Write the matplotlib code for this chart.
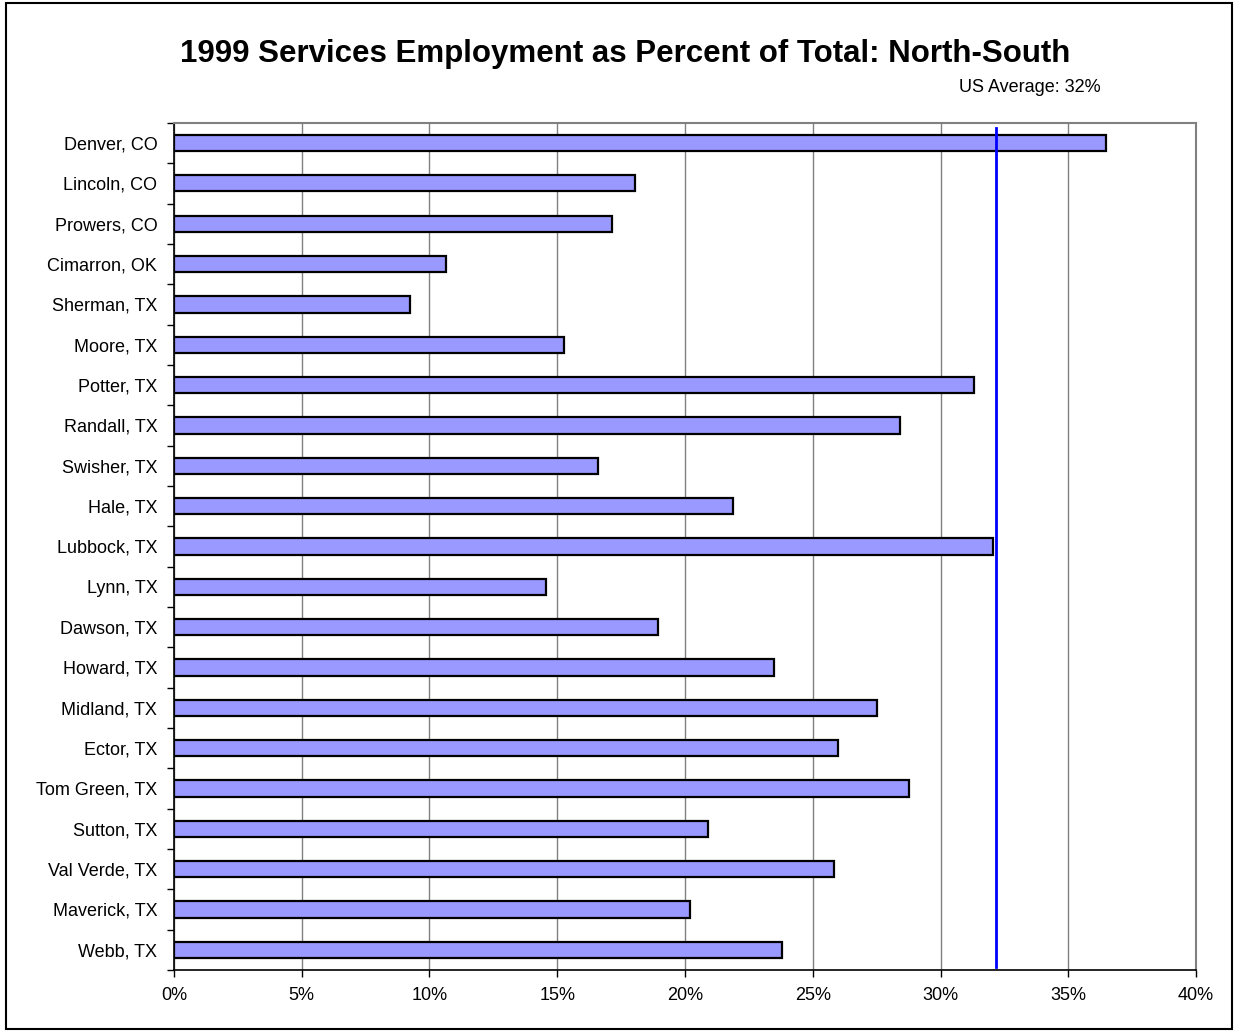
import matplotlib.pyplot as plt
from matplotlib.patches import Rectangle
from matplotlib.ticker import FuncFormatter, MultipleLocator
import numpy as np

plt.rcParams['font.family'] = ['Liberation Sans', 'DejaVu Sans']

counties = ["Denver, CO", "Lincoln, CO", "Prowers, CO", "Cimarron, OK", "Sherman, TX",
            "Moore, TX", "Potter, TX", "Randall, TX", "Swisher, TX", "Hale, TX",
            "Lubbock, TX", "Lynn, TX", "Dawson, TX", "Howard, TX", "Midland, TX",
            "Ector, TX", "Tom Green, TX", "Sutton, TX", "Val Verde, TX", "Maverick, TX",
            "Webb, TX"]
services_pct = [36.46, 18.03, 17.14, 10.65, 9.24,
                15.26, 31.31, 28.40, 16.60, 21.86,
                32.04, 14.56, 18.94, 23.49, 27.50,
                26.00, 28.76, 20.90, 25.84, 20.20,
                23.81]
us_average = 32.17

fig = plt.figure(figsize=(12.38, 10.33), dpi=100)
ax = fig.add_axes([0.1405, 0.061, 0.8256, 0.820])

y = np.arange(len(counties))
ax.barh(y, services_pct, height=0.4, color="#9999FF", edgecolor="black",
        linewidth=1.6, zorder=3)

ax.axvline(us_average, ymin=0.004, ymax=0.994, color="#0000FF", linewidth=2, zorder=4)

ax.set_xlim(0, 40)
ax.set_ylim(len(counties) - 0.5, -0.5)
ax.xaxis.set_major_locator(MultipleLocator(5))
ax.xaxis.set_major_formatter(FuncFormatter(lambda v, p: f"{v:.0f}%"))
ax.grid(axis="x", color="#808080", linewidth=1, zorder=0)

ax.set_yticks(y)
ax.set_yticklabels(counties)
ax.set_yticks(np.arange(len(counties) + 1) - 0.5, minor=True)
ax.tick_params(axis="y", which="major", length=0, pad=12, labelsize=13)
ax.tick_params(axis="y", which="minor", length=5, width=1, color="black")
ax.tick_params(axis="x", length=5, width=1, labelsize=13, pad=7)

for side in ("top", "right"):
    ax.spines[side].set_color("#808080")
    ax.spines[side].set_linewidth(1.5)
for side in ("left", "bottom"):
    ax.spines[side].set_color("black")
    ax.spines[side].set_linewidth(1.2)

fig.text(0.505, 0.948, "1999 Services Employment as Percent of Total: North-South",
         ha="center", va="center", fontsize=22.5, fontweight="bold")
fig.text(0.832, 0.915, f"US Average: {us_average:.0f}%",
         ha="center", va="center", fontsize=13)

fig.patches.append(Rectangle((0.005, 0.004), 0.990, 0.993, transform=fig.transFigure,
                             fill=False, edgecolor="black", linewidth=1.5))

fig.savefig("out.png", dpi=100, facecolor="white")
